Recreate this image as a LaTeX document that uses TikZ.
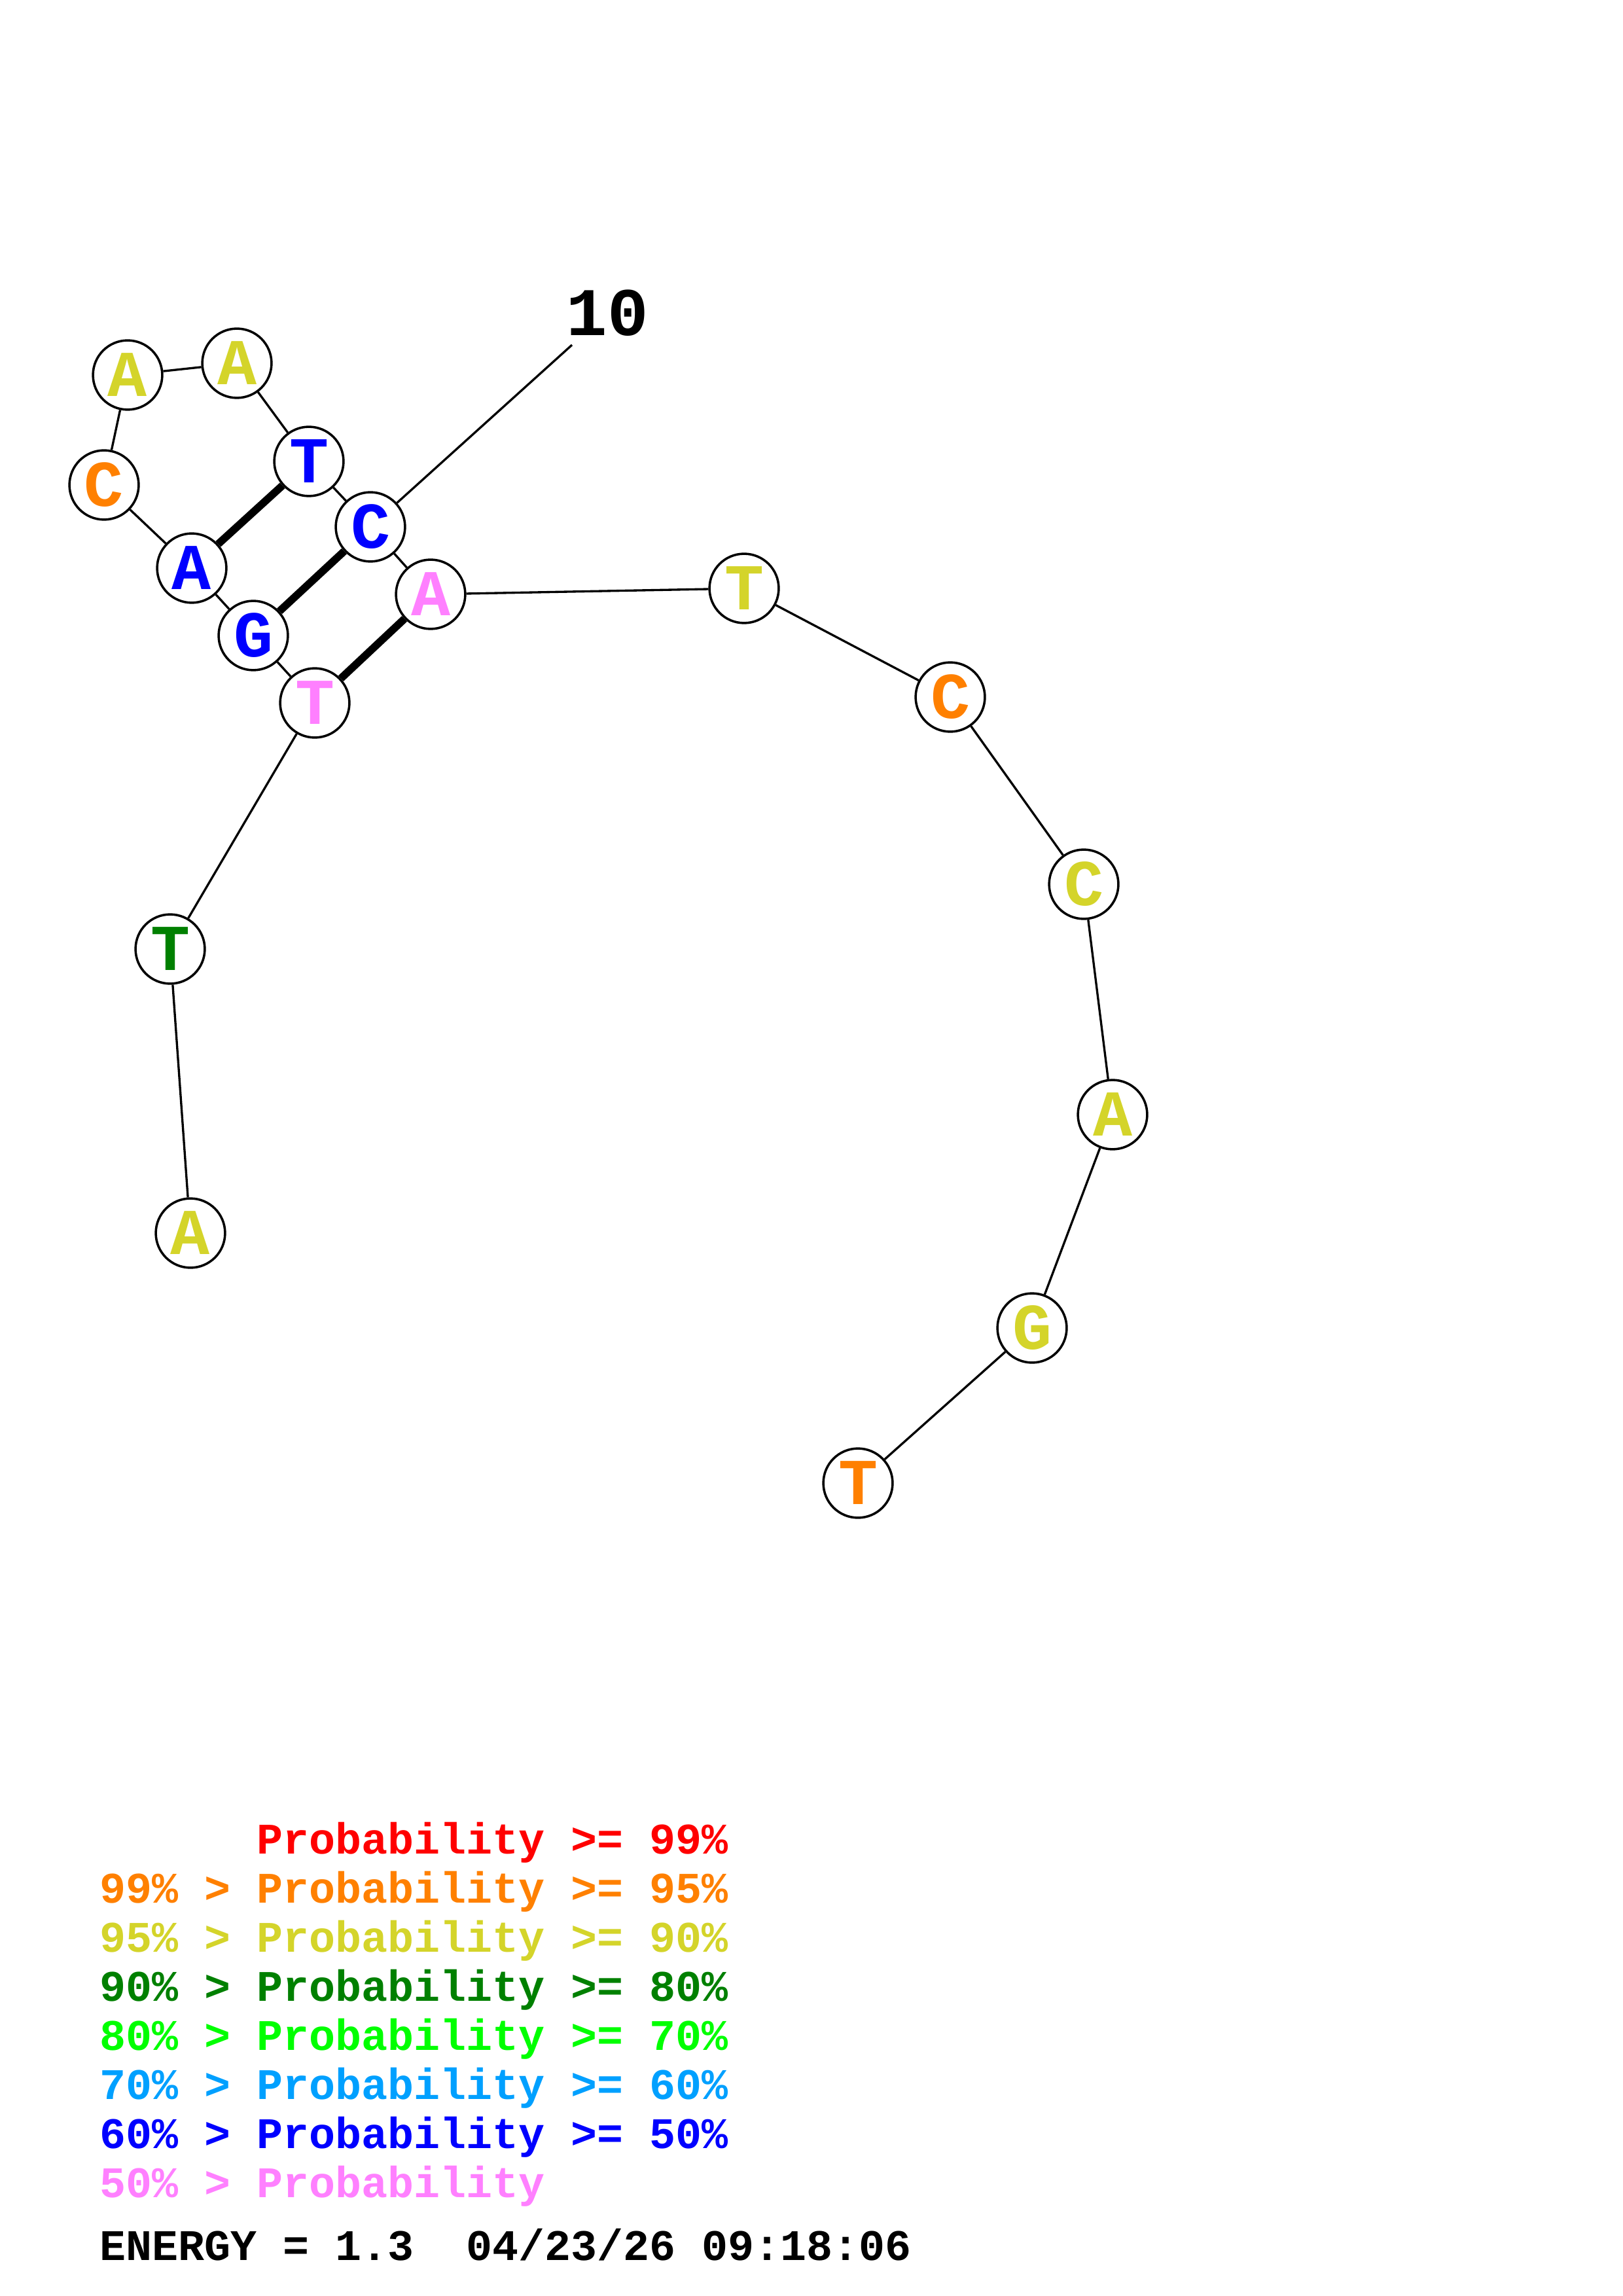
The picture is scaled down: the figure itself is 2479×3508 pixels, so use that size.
\documentclass[tikz,border=0pt]{standalone}
\usepackage{fontspec}
\newfontfamily\cour{Liberation Mono}
\definecolor{cred}{RGB}{255,0,0}
\definecolor{corange}{RGB}{255,128,0}
\definecolor{cyellow}{RGB}{212,212,42}
\definecolor{cdgreen}{RGB}{0,128,0}
\definecolor{cgreen}{RGB}{0,255,0}
\definecolor{clblue}{RGB}{0,160,255}
\definecolor{cblue}{RGB}{0,0,255}
\definecolor{cpink}{RGB}{255,128,255}
\tikzset{
  nt/.style={circle,draw=black,line width=0.85pt,fill=white,minimum size=25.4pt,inner sep=0pt,font=\cour\bfseries\fontsize{24}{24}\selectfont},
  bb/.style={line width=0.8pt,black},
  pr/.style={line width=2.8pt,black},
  leg/.style={anchor=base west,inner sep=0pt,font=\cour\bfseries\fontsize{16}{16}\selectfont}
}
\newcommand{\lt}[2]{\textcolor{#1}{\raisebox{-1.6pt}{#2}}}
\begin{document}
\begin{tikzpicture}[x=0.24pt,y=-0.24pt]
\useasboundingbox[fill=white] (0,0) rectangle (2479,3508);
\coordinate (lab) at (874,527);
\node[nt] (n1) at (291,1884) {\lt{cyellow}{A}};
\node[nt] (n2) at (260,1450) {\lt{cdgreen}{T}};
\node[nt] (n3) at (481,1074) {\lt{cpink}{T}};
\node[nt] (n4) at (387,971) {\lt{cblue}{G}};
\node[nt] (n5) at (293,868) {\lt{cblue}{A}};
\node[nt] (n6) at (159,741) {\lt{corange}{C}};
\node[nt] (n7) at (195,573) {\lt{cyellow}{A}};
\node[nt] (n8) at (362,555) {\lt{cyellow}{A}};
\node[nt] (n9) at (472,705) {\lt{cblue}{T}};
\node[nt] (n10) at (566,805) {\lt{cblue}{C}};
\node[nt] (n11) at (658,908) {\lt{cpink}{A}};
\node[nt] (n12) at (1137,899) {\lt{cyellow}{T}};
\node[nt] (n13) at (1452,1065) {\lt{corange}{C}};
\node[nt] (n14) at (1656,1351) {\lt{cyellow}{C}};
\node[nt] (n15) at (1700,1703) {\lt{cyellow}{A}};
\node[nt] (n16) at (1577,2029) {\lt{cyellow}{G}};
\node[nt] (n17) at (1311,2266) {\lt{corange}{T}};
\draw[bb] (n1) -- (n2);
\draw[bb] (n2) -- (n3);
\draw[bb] (n3) -- (n4);
\draw[bb] (n4) -- (n5);
\draw[bb] (n5) -- (n6);
\draw[bb] (n6) -- (n7);
\draw[bb] (n7) -- (n8);
\draw[bb] (n8) -- (n9);
\draw[bb] (n9) -- (n10);
\draw[bb] (n10) -- (n11);
\draw[bb] (n11) -- (n12);
\draw[bb] (n12) -- (n13);
\draw[bb] (n13) -- (n14);
\draw[bb] (n14) -- (n15);
\draw[bb] (n15) -- (n16);
\draw[bb] (n16) -- (n17);
\draw[pr] (n5) -- (n9);
\draw[pr] (n4) -- (n10);
\draw[pr] (n3) -- (n11);
\draw[bb] (n10) -- (lab);
\node[anchor=center,inner sep=0pt,font=\cour\bfseries\fontsize{25}{25}\selectfont] (ten) at (928,478) {10};
% legend
\node[leg,text=cred] (l1) at (152,2832) {\phantom{99\% > }Probability >= 99\%};
\node[leg,text=corange] (l2) at (152,2907) {99\% > Probability >= 95\%};
\node[leg,text=cyellow] (l3) at (152,2982) {95\% > Probability >= 90\%};
\node[leg,text=cdgreen] (l4) at (152,3057) {90\% > Probability >= 80\%};
\node[leg,text=cgreen] (l5) at (152,3132) {80\% > Probability >= 70\%};
\node[leg,text=clblue] (l6) at (152,3207) {70\% > Probability >= 60\%};
\node[leg,text=cblue] (l7) at (152,3282) {60\% > Probability >= 50\%};
\node[leg,text=cpink] (l8) at (152,3357) {50\% > Probability};
\node[leg,text=black] (en) at (152,3453) {ENERGY = 1.3\ \ 04/23/26 09:18:06};
\end{tikzpicture}
\end{document}
